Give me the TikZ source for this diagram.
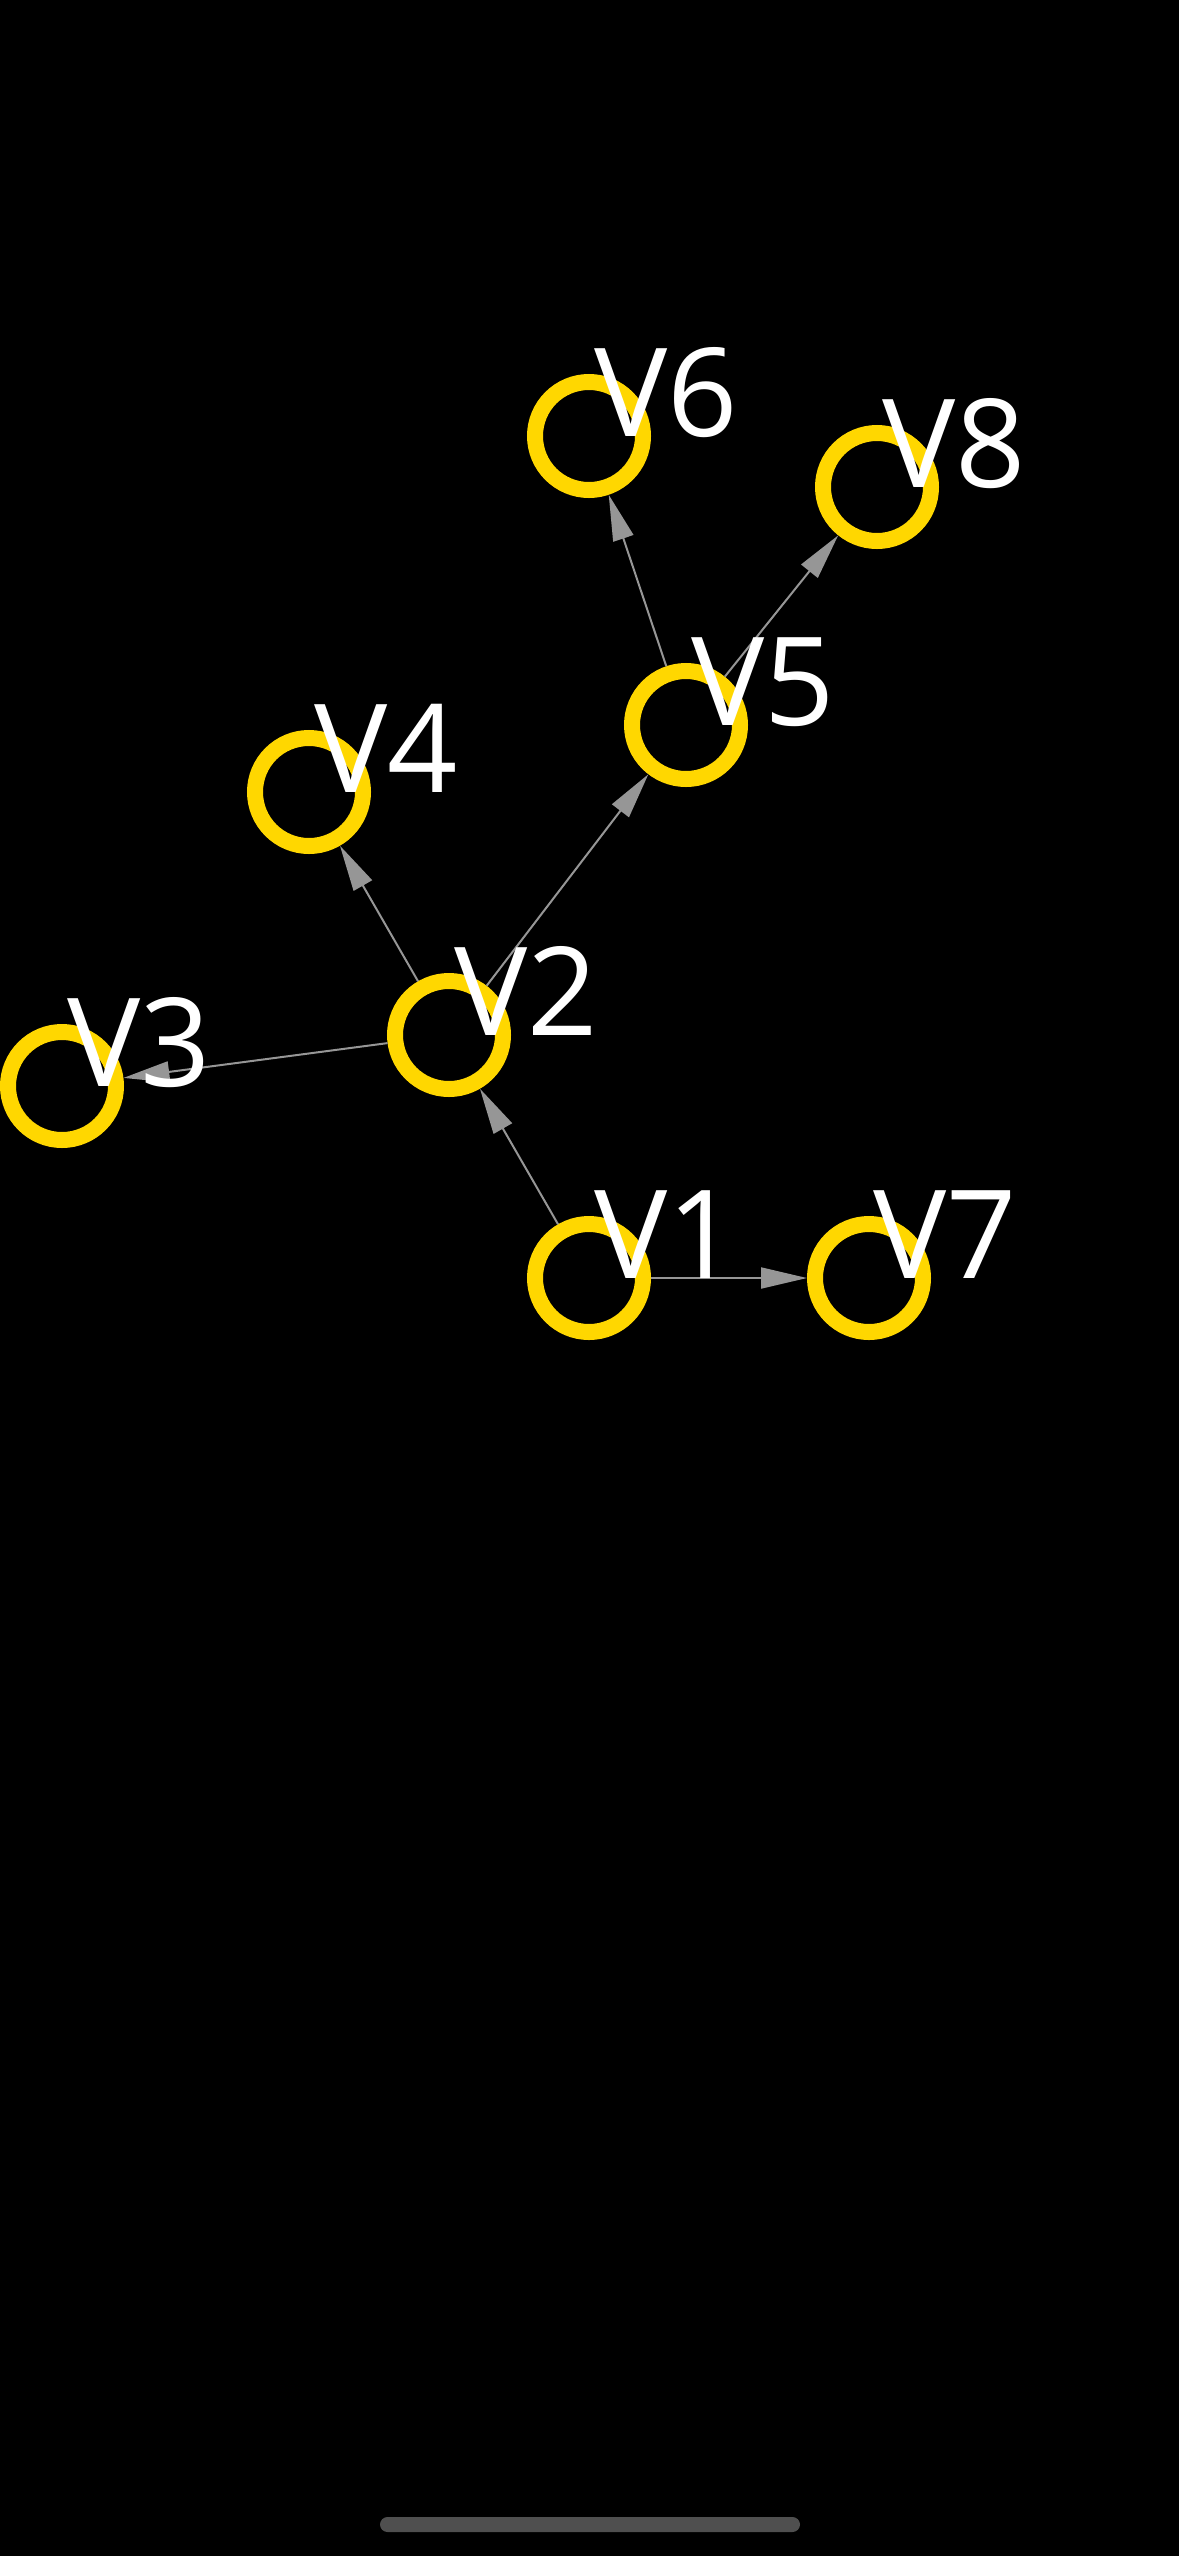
\documentclass[tikz,border=0pt]{standalone}
\usepackage{fontspec}
\setmainfont{Open Sans}
\usetikzlibrary{arrows.meta}
\definecolor{gold}{RGB}{255,215,0}
\definecolor{edgegray}{RGB}{150,150,150}
\definecolor{bargray}{RGB}{79,79,79}
\tikzset{
  vert/.style={circle, draw=gold, line width=16pt, fill=black, minimum size=108pt, inner sep=0pt},
  vlabel/.style={anchor=base west, inner sep=0pt, text=white, font=\fontsize{123}{123}\selectfont},
  edge/.style={draw=edgegray, line width=2pt, -{Triangle[length=46pt, width=21pt]}}
}
\begin{document}
\begin{tikzpicture}[x=1pt,y=1pt]
\fill[black] (0,0) rectangle (1179,-2556);
\useasboundingbox (0,0) rectangle (1179,-2556);
% vertices
\node[vert] (v1) at (589,-1278) {};
\node[vert] (v7) at (869,-1278) {};
\node[vert] (v2) at (449,-1035) {};
\node[vert] (v3) at (62,-1086) {};
\node[vert] (v4) at (309,-792) {};
\node[vert] (v5) at (686,-725) {};
\node[vert] (v6) at (589,-436) {};
\node[vert] (v8) at (877,-487) {};
% edges
\begin{scope}[on background layer/.style={}]
\draw[edge] (v1) -- (v7);
\draw[edge] (v1) -- (v2);
\draw[edge] (v2) -- (v3);
\draw[edge] (v2) -- (v4);
\draw[edge] (v2) -- (v5);
\draw[edge] (v5) -- (v6);
\draw[edge] (v5) -- (v8);
\end{scope}
% labels
\node[vlabel] (l1) at (594,-1278) {V1};
\node[vlabel] (l7) at (873,-1278) {V7};
\node[vlabel] (l2) at (454,-1035) {V2};
\node[vlabel] (l3) at (67,-1086) {V3};
\node[vlabel] (l4) at (314,-792) {V4};
\node[vlabel] (l5) at (691,-725) {V5};
\node[vlabel] (l6) at (594,-436) {V6};
\node[vlabel] (l8) at (882,-487) {V8};
% home indicator
\node[fill=bargray, rounded corners=7.5pt, minimum width=420pt, minimum height=15pt, inner sep=0pt] (bar) at (590,-2524.5) {};
\end{tikzpicture}
\end{document}
